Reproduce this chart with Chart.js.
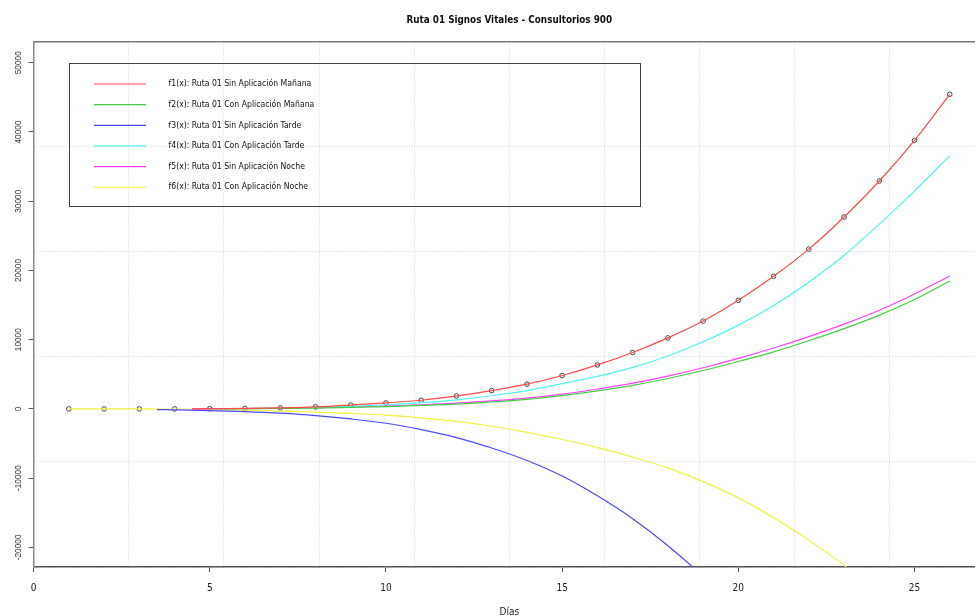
<!DOCTYPE html>
<html>
<head>
<meta charset="utf-8">
<script src="https://cdn.jsdelivr.net/npm/chart.js@4.4.0/dist/chart.umd.min.js"></script>
<style>
  html, body { margin: 0; padding: 0; background: #fff; overflow: hidden; }
  #grafico { display: block; }
</style>
</head>
<body>
<canvas id="grafico" width="990" height="616"></canvas>
<script>
// dias (eje x) y puntos observados (circulos)
const dias = [1, 2, 3, 4, 5, 6, 7, 8, 9, 10, 11, 12, 13, 14, 15, 16, 17, 18, 19, 20, 21, 22, 23, 24, 25, 26];
const observados = [0, 0, 0, 0, 30, 70, 150, 290, 560, 866, 1250, 1877, 2650, 3580, 4830, 6354, 8150, 10260, 12690, 15690, 19160, 23080, 27726, 32924, 38802, 45444];

// curvas ajustadas (null = fuera del rango de la curva)
const f1 = [null, null, null, null, 30, 70, 150, 290, 560, 866, 1250, 1877, 2650, 3580, 4830, 6354, 8150, 10260, 12690, 15690, 19160, 23080, 27726, 32924, 38802, 45444];
const f2 = [null, null, null, null, null, 30, 70, 130, 220, 340, 500, 680, 1000, 1380, 1920, 2600, 3400, 4400, 5550, 6850, 8250, 9850, 11600, 13550, 15800, 18480];
const f3 = [null, null, null, -140, -240, -390, -620, -960, -1450, -2070, -2985, -4140, -5650, -7450, -9700, -12550, -15850, -19750, -24200, -29300, null, null, null, null, null, null];
const f4 = [null, null, null, null, null, 60, 120, 220, 380, 600, 900, 1320, 1900, 2650, 3650, 4700, 6000, 7650, 9700, 12100, 14950, 18300, 22200, 26700, 31500, 36580];
const f5 = [null, null, null, null, 20, 50, 100, 170, 280, 420, 600, 840, 1170, 1560, 2130, 2880, 3720, 4750, 5950, 7300, 8800, 10450, 12250, 14250, 16600, 19200];
const f6 = [0, 0, 0, -30, -80, -180, -320, -460, -650, -900, -1280, -1800, -2500, -3380, -4420, -5580, -6950, -8520, -10500, -12850, -15700, -18950, -22600, -26800, null, null];

// donde empieza cada curva
const inicioX = [4.5, 5.3, 3.5, 5, 4.5, 1];
const inicioY = [0, 0, -100, 0, 0, 0];

const nombres = [
  "f1(x): Ruta 01 Sin Aplicación Mañana",
  "f2(x): Ruta 01 Con Aplicación Mañana",
  "f3(x): Ruta 01 Sin Aplicación Tarde",
  "f4(x): Ruta 01 Con Aplicación Tarde",
  "f5(x): Ruta 01 Sin Aplicación Noche",
  "f6(x): Ruta 01 Con Aplicación Noche"
];
const colores = ["#ff4a4a", "#45cc45", "#4a4aff", "#55f2f2", "#ff40ff", "#f2f240"];

const ticksX = [0, 5, 10, 15, 20, 25];
const ticksY = [-20000, -10000, 0, 10000, 20000, 30000, 40000, 50000];
const rejillaX = [0, 2.7, 5.4, 8.1, 10.8, 13.5, 16.2, 18.9, 21.6, 24.3, 27];
const rejillaY = [-22832, -7659, 7514, 22687, 37860, 53033];
const rangoX = [0, 27];
const rangoY = [-22832, 53033];

const fuente = "'Liberation Sans Narrow', 'Arial Narrow', 'DejaVu Sans Condensed', sans-serif";
const series = [f1, f2, f3, f4, f5, f6];

// arma los puntos {x,y} de cada curva
function puntosCurva(i) {
  const pts = [{ x: inicioX[i], y: inicioY[i] }];
  dias.forEach((d, k) => {
    if (d > inicioX[i] && series[i][k] !== null) pts.push({ x: d, y: series[i][k] });
  });
  return pts;
}

const datasets = series.map((s, i) => ({
  label: nombres[i],
  data: puntosCurva(i),
  borderColor: colores[i],
  borderWidth: 1.2,
  pointRadius: 0,
  cubicInterpolationMode: "monotone",
  fill: false
}));

datasets.push({
  label: "observados",
  data: dias.map((d, k) => ({ x: d, y: observados[k] })),
  showLine: false,
  pointRadius: 2.3,
  pointBorderWidth: 1,
  pointBorderColor: "#444",
  pointBackgroundColor: "rgba(0,0,0,0)",
  esPunto: true
});

// leyenda dentro del grafico, con su caja
const leyendaCaja = {
  id: "leyendaCaja",
  afterDatasetsDraw(chart) {
    const ctx = chart.ctx;
    ctx.save();
    ctx.strokeStyle = "#444";
    ctx.lineWidth = 1;
    ctx.strokeRect(69.5, 63.5, 571, 143);
    ctx.font = "8.6px " + fuente;
    ctx.textBaseline = "middle";
    ctx.fillStyle = "#111";
    chart.data.datasets.forEach((ds, i) => {
      if (ds.esPunto) return;
      const y = 84 + i * 20.65;
      ctx.strokeStyle = ds.borderColor;
      ctx.lineWidth = 1.2;
      ctx.beginPath();
      ctx.moveTo(94, y);
      ctx.lineTo(146, y);
      ctx.stroke();
      ctx.fillText(ds.label, 168.5, y);
    });
    ctx.restore();
  }
};

const ponerTicks = (valores) => (scale) => {
  scale.ticks = valores.map((v) => ({ value: v }));
};

new Chart(document.getElementById("grafico"), {
  type: "line",
  data: { datasets: datasets },
  options: {
    responsive: false,
    animation: false,
    events: [],
    layout: { padding: { left: 0, right: 2.4, top: 0, bottom: 0 } },
    plugins: {
      legend: { display: false },
      tooltip: { enabled: false },
      title: {
        display: true,
        fullSize: false,
        text: "Ruta 01 Signos Vitales - Consultorios 900",
        color: "#111",
        font: { family: fuente, size: 9.8, weight: "bold" },
        padding: { top: 14.5, bottom: 15.5 }
      }
    },
    scales: {
      x: {
        type: "linear",
        position: "bottom",
        min: rangoX[0],
        max: rangoX[1],
        afterBuildTicks: ponerTicks(ticksX),
        afterFit: (scale) => { scale.height = 49; },
        grid: { drawOnChartArea: false, drawTicks: true, tickLength: 5, color: "#555" },
        border: { display: true, color: "#555", width: 1.5 },
        ticks: { color: "#222", padding: 10, maxRotation: 0, autoSkip: false, font: { family: fuente, size: 10 } },
        title: { display: true, text: "Días", color: "#222", font: { family: fuente, size: 10 }, padding: { top: 0, bottom: -2 } }
      },
      x2: {
        type: "linear",
        position: "top",
        min: rangoX[0],
        max: rangoX[1],
        afterBuildTicks: ponerTicks(rejillaX),
        grid: { drawOnChartArea: true, drawTicks: false, color: "#d4d4d4", lineWidth: 1 },
        border: { display: true, color: "#777", width: 1.5, dash: [1, 2] },
        ticks: { display: false }
      },
      y: {
        type: "linear",
        position: "left",
        min: rangoY[0],
        max: rangoY[1],
        afterBuildTicks: ponerTicks(ticksY),
        afterFit: (scale) => { scale.width = 33.6; },
        grid: { drawOnChartArea: false, drawTicks: true, tickLength: 5, color: "#555" },
        border: { display: true, color: "#888", width: 1.5 },
        ticks: {
          color: "#333",
          padding: -3,
          minRotation: 90,
          maxRotation: 90,
          crossAlign: "center",
          autoSkip: false,
          callback: (v) => String(v),
          font: { family: "'Liberation Sans', Arial, sans-serif", size: 8.3 }
        }
      },
      y2: {
        type: "linear",
        position: "right",
        min: rangoY[0],
        max: rangoY[1],
        afterBuildTicks: ponerTicks(rejillaY),
        grid: { drawOnChartArea: true, drawTicks: false, color: "#d4d4d4", lineWidth: 1 },
        border: { display: true, color: "#777", width: 1.5, dash: [1, 2] },
        ticks: { display: false }
      }
    }
  },
  plugins: [leyendaCaja]
});
</script>
</body>
</html>
